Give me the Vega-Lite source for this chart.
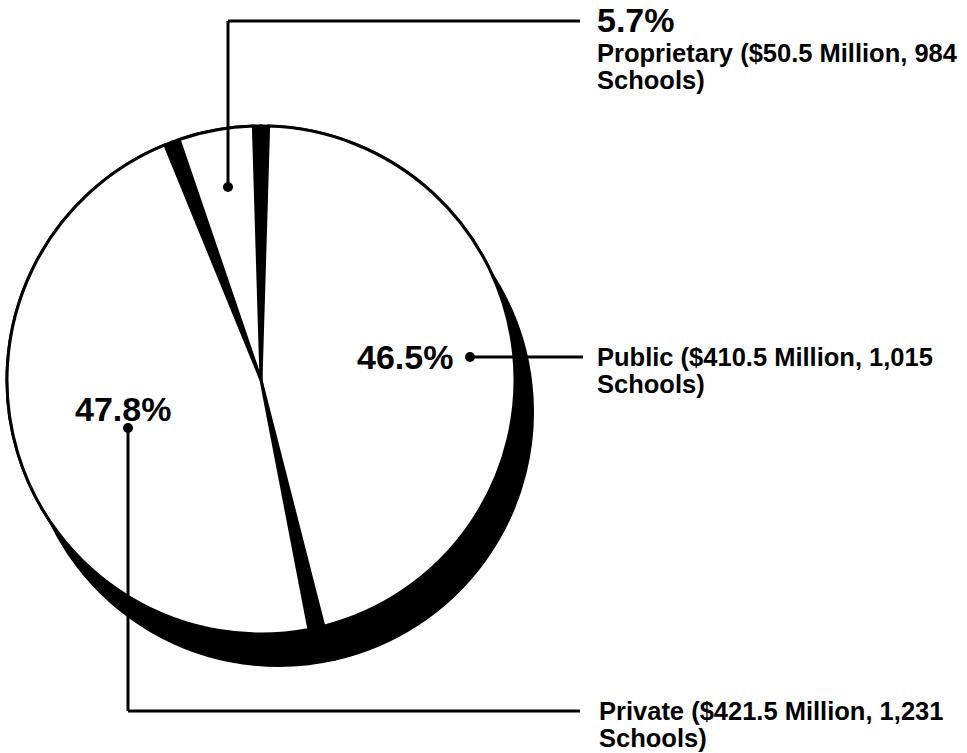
{
  "$schema": "https://vega.github.io/schema/vega-lite/v6.json",
  "width": 967,
  "height": 753,
  "padding": 0,
  "autosize": "none",
  "background": "white",
  "config": {"view": {"stroke": null}},
  "datasets": {
    "slices": [
      {"sector": "Public", "share": 46.5, "ord": 1},
      {"sector": "Private", "share": 47.8, "ord": 2},
      {"sector": "Proprietary", "share": 5.7, "ord": 3}
    ],
    "pcts": [
      {"label": "5.7%", "x": 597, "y": 32},
      {"label": "46.5%", "x": 357, "y": 369},
      {"label": "47.8%", "x": 75, "y": 421}
    ],
    "descs": [
      {"label": "Proprietary ($50.5 Million, 984\nSchools)", "x": 597, "y": 62},
      {"label": "Public ($410.5 Million, 1,015\nSchools)", "x": 597, "y": 366},
      {"label": "Private ($421.5 Million, 1,231\nSchools)", "x": 599, "y": 720}
    ],
    "leaders": [
      {"sector": "Proprietary", "seg": 1, "x": 228, "y": 187, "x2": 228, "y2": 21},
      {"sector": "Proprietary", "seg": 2, "x": 228, "y": 21, "x2": 580, "y2": 21},
      {"sector": "Public", "seg": 1, "x": 470, "y": 357, "x2": 583, "y2": 357},
      {"sector": "Private", "seg": 1, "x": 128, "y": 428, "x2": 128, "y2": 711},
      {"sector": "Private", "seg": 2, "x": 128, "y": 711, "x2": 580, "y2": 711}
    ]
  },
  "layer": [
    {
      "data": {"name": "slices"},
      "mark": {"type": "arc", "radius": 254, "fill": "black", "stroke": "black", "strokeWidth": 2},
      "encoding": {
        "theta": {"field": "share", "type": "quantitative", "stack": true},
        "order": {"field": "ord", "type": "quantitative"},
        "x": {"datum": 279, "type": "quantitative", "scale": {"domain": [0, 967]}, "axis": null},
        "y": {"datum": 412, "type": "quantitative", "scale": {"domain": [0, 753], "reverse": true}, "axis": null}
      }
    },
    {
      "data": {"name": "slices"},
      "mark": {"type": "arc", "radius": 254, "fill": "black", "stroke": "black", "strokeWidth": 3},
      "encoding": {
        "theta": {"field": "share", "type": "quantitative", "stack": true},
        "order": {"field": "ord", "type": "quantitative"},
        "x": {"datum": 261, "type": "quantitative", "scale": {"domain": [0, 967]}, "axis": null},
        "y": {"datum": 380, "type": "quantitative", "scale": {"domain": [0, 753], "reverse": true}, "axis": null}
      }
    },
    {
      "data": {"name": "slices"},
      "mark": {"type": "arc", "radius": 254, "padAngle": 0.06, "fill": "white", "stroke": "black", "strokeWidth": 3},
      "encoding": {
        "theta": {"field": "share", "type": "quantitative", "stack": true},
        "order": {"field": "ord", "type": "quantitative"},
        "x": {"datum": 261, "type": "quantitative", "scale": {"domain": [0, 967]}, "axis": null},
        "y": {"datum": 380, "type": "quantitative", "scale": {"domain": [0, 753], "reverse": true}, "axis": null}
      }
    },
    {
      "data": {"name": "leaders"},
      "mark": {"type": "rule", "stroke": "black", "strokeWidth": 3},
      "encoding": {
        "x": {"field": "x", "type": "quantitative", "scale": {"domain": [0, 967]}, "axis": null},
        "y": {"field": "y", "type": "quantitative", "scale": {"domain": [0, 753], "reverse": true}, "axis": null},
        "x2": {"field": "x2"},
        "y2": {"field": "y2"}
      }
    },
    {
      "data": {"name": "leaders"},
      "transform": [{"filter": "datum.seg == 1"}],
      "mark": {"type": "point", "shape": "circle", "filled": true, "fill": "black", "opacity": 1, "size": 100},
      "encoding": {
        "x": {"field": "x", "type": "quantitative", "scale": {"domain": [0, 967]}, "axis": null},
        "y": {"field": "y", "type": "quantitative", "scale": {"domain": [0, 753], "reverse": true}, "axis": null}
      }
    },
    {
      "data": {"name": "pcts"},
      "mark": {"type": "text", "align": "left", "baseline": "alphabetic", "font": "Liberation Sans", "fontWeight": "bold", "fontSize": 34, "fill": "black"},
      "encoding": {
        "x": {"field": "x", "type": "quantitative", "scale": {"domain": [0, 967]}, "axis": null},
        "y": {"field": "y", "type": "quantitative", "scale": {"domain": [0, 753], "reverse": true}, "axis": null},
        "text": {"field": "label", "type": "nominal"}
      }
    },
    {
      "data": {"name": "descs"},
      "mark": {"type": "text", "align": "left", "baseline": "alphabetic", "lineBreak": "\n", "lineHeight": 27, "font": "Liberation Sans", "fontWeight": "bold", "fontSize": 25.5, "fill": "black"},
      "encoding": {
        "x": {"field": "x", "type": "quantitative", "scale": {"domain": [0, 967]}, "axis": null},
        "y": {"field": "y", "type": "quantitative", "scale": {"domain": [0, 753], "reverse": true}, "axis": null},
        "text": {"field": "label", "type": "nominal"}
      }
    }
  ]
}
